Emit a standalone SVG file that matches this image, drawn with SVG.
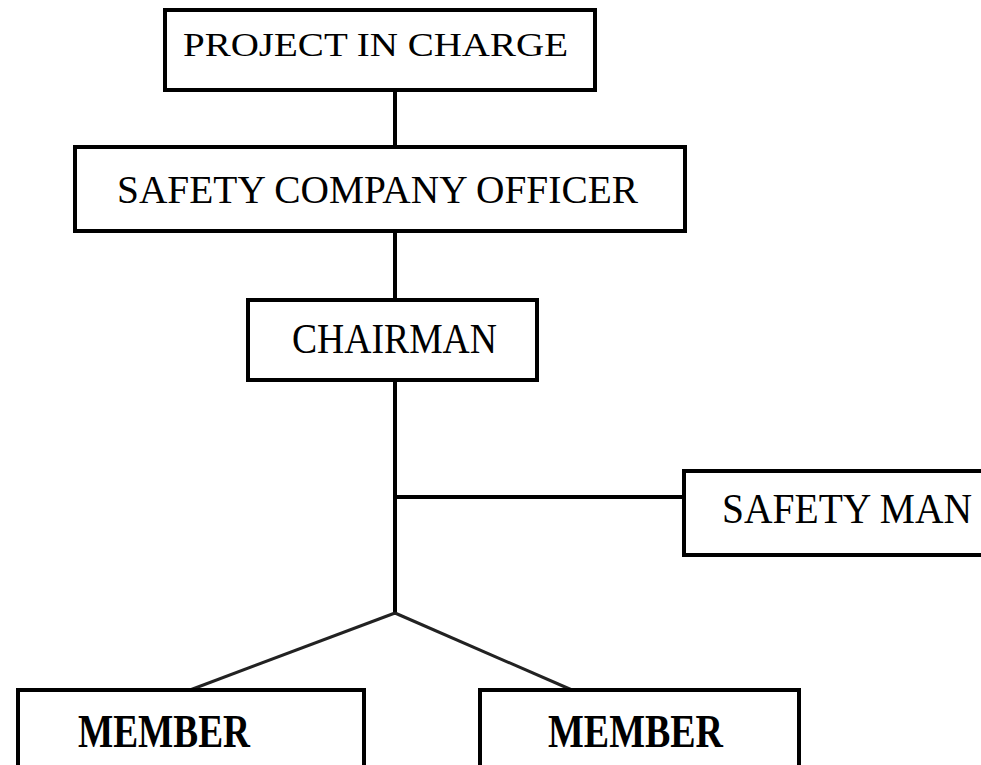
<svg xmlns="http://www.w3.org/2000/svg" width="981" height="765" viewBox="0 0 981 765">
<style>
.box{fill:#fff;stroke:#000;stroke-width:4}
.lbl{font-family:"Liberation Serif","Times New Roman",serif;fill:#000}
.ln{stroke:#000;stroke-width:4;fill:none}
.dg{stroke:#222;stroke-width:3;fill:none}
</style>
<rect width="981" height="765" fill="#fff"/>
<g id="connectors">
<line class="ln" x1="395" y1="90" x2="395" y2="147"/>
<line class="ln" x1="395" y1="231" x2="395" y2="300"/>
<line class="ln" x1="395" y1="380" x2="395" y2="615"/>
<line class="ln" x1="395" y1="497" x2="684" y2="497"/>
<line class="dg" x1="395" y1="613" x2="190" y2="690"/>
<line class="dg" x1="395" y1="613" x2="572" y2="690"/>
</g>
<g id="project-in-charge">
<rect class="box" x="165" y="10" width="430" height="80"/>
<text class="lbl" x="183" y="56" font-size="34" textLength="385" lengthAdjust="spacingAndGlyphs">PROJECT IN CHARGE</text>
</g>
<g id="safety-company-officer">
<rect class="box" x="75" y="147" width="610" height="84"/>
<text class="lbl" x="117" y="203" font-size="40" textLength="521" lengthAdjust="spacingAndGlyphs">SAFETY COMPANY OFFICER</text>
</g>
<g id="chairman">
<rect class="box" x="248" y="300" width="289" height="80"/>
<text class="lbl" x="292" y="353" font-size="42" textLength="205" lengthAdjust="spacingAndGlyphs">CHAIRMAN</text>
</g>
<g id="safety-man">
<rect class="box" x="684" y="471" width="320" height="84"/>
<text class="lbl" x="722" y="523" font-size="42" textLength="250" lengthAdjust="spacingAndGlyphs">SAFETY MAN</text>
</g>
<g id="member-1">
<rect class="box" x="18" y="690" width="346" height="100"/>
<text class="lbl" x="78" y="747" font-size="46" font-weight="bold" textLength="172" lengthAdjust="spacingAndGlyphs">MEMBER</text>
</g>
<g id="member-2">
<rect class="box" x="480" y="690" width="319" height="100"/>
<text class="lbl" x="548" y="747" font-size="46" font-weight="bold" textLength="175" lengthAdjust="spacingAndGlyphs">MEMBER</text>
</g>
</svg>
